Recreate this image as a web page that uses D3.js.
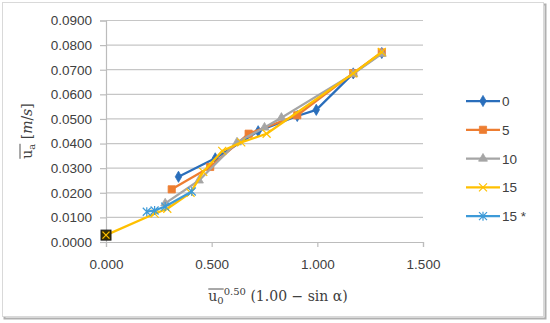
<!DOCTYPE html>
<html>
<head>
<meta charset="utf-8">
<script src="https://cdn.jsdelivr.net/npm/d3@7"></script>
<style>
  body { margin: 0; background: #fff; }
  svg text { font-family: "Liberation Sans", Arial, sans-serif; fill: #404040; }
  .math { font-family: "DejaVu Serif", "Liberation Serif", serif; }
</style>
</head>
<body>
<div id="chart"></div>
<script>
// series values: [x, y]
const seriesNames = ["0", "5", "10", "15", "15 *"];
const s0 = [[0.343, 0.0265], [0.517, 0.0340], [0.720, 0.0450], [0.905, 0.0512], [0.995, 0.0537], [1.170, 0.0685], [1.305, 0.0768]];
const s5 = [[0.311, 0.0214], [0.493, 0.0305], [0.675, 0.0440], [0.905, 0.0515], [1.170, 0.0686], [1.305, 0.0770]];
const s10 = [[0.280, 0.0157], [0.440, 0.0250], [0.620, 0.0405], [0.750, 0.0465], [0.830, 0.0505], [1.170, 0.0683], [1.305, 0.0765]];
const s15 = [[0.000, 0.0028], [0.230, 0.0115], [0.290, 0.0135], [0.400, 0.0200], [0.460, 0.0285], [0.550, 0.0370], [0.640, 0.0405], [0.760, 0.0440], [1.170, 0.0685], [1.305, 0.0772]];
const s15b = [[0.193, 0.0123], [0.230, 0.0128], [0.280, 0.0144], [0.406, 0.0205]];
const seriesData = [s0, s5, s10, s15, s15b];
const colors = ["#2a6ebb", "#ed7d31", "#a5a5a5", "#ffc000", "#3d9ad8"];
const markers = ["diamond", "square", "triangle", "x", "star"];
const xTicks = [0, 0.5, 1.0, 1.5];
const yTicks = [0, 0.01, 0.02, 0.03, 0.04, 0.05, 0.06, 0.07, 0.08, 0.09];

const W = 550, H = 323;
const margin = {top: 20.5, right: 127, bottom: 81, left: 106};
const width = W - margin.left - margin.right;
const height = H - margin.top - margin.bottom;

const svg = d3.select("#chart").append("svg")
  .attr("width", W)
  .attr("height", H);

// outer chart frame with a soft shadow on right/bottom
svg.append("rect")
  .attr("x", 3.5).attr("y", 3.5)
  .attr("width", 541).attr("height", 314)
  .attr("fill", "none").attr("stroke", "#b0b0b0").attr("stroke-width", 2)
  .attr("transform", "translate(1,1)");
svg.append("rect")
  .attr("x", 2.5).attr("y", 2.5)
  .attr("width", 541).attr("height", 314)
  .attr("fill", "#fff").attr("stroke", "#d9d9d9").attr("stroke-width", 1);

const x = d3.scaleLinear().domain([0, 1.5]).range([0, width]);
const y = d3.scaleLinear().domain([0, 0.09]).range([height, 0]);

const g = svg.append("g")
  .attr("transform", `translate(${margin.left},${margin.top})`);

// gridlines
g.append("g")
  .selectAll("line")
  .data(yTicks.slice(1))
  .join("line")
  .attr("x1", 0).attr("x2", width)
  .attr("y1", d => y(d)).attr("y2", d => y(d))
  .attr("stroke", "#c6c6c6").attr("stroke-width", 1.2);

// axes
const yAxis = d3.axisLeft(y).tickValues(yTicks).tickFormat(d3.format(".4f")).tickSize(6).tickPadding(8);
const xAxis = d3.axisBottom(x).tickValues(xTicks).tickFormat(d3.format(".3f")).tickSize(5).tickPadding(12);

const yAxisG = g.append("g").call(yAxis);
const xAxisG = g.append("g").attr("transform", `translate(0,${height})`).call(xAxis);

[yAxisG, xAxisG].forEach(a => {
  a.select(".domain").attr("stroke", "#bcbcbc").attr("stroke-width", 1.2);
  a.selectAll(".tick line").attr("stroke", "#bcbcbc").attr("stroke-width", 1.2);
  a.selectAll(".tick text").attr("fill", "#404040")
    .style("font-family", "'Liberation Sans', Arial, sans-serif")
    .style("font-size", "13.5px");
});

// marker shapes
function markerPath(type) {
  if (type === "diamond") return d3.symbol(d3.symbolDiamond, 36)();
  if (type === "square") return d3.symbol(d3.symbolSquare, 52)();
  if (type === "triangle") return d3.symbol(d3.symbolTriangle, 34)();
  if (type === "x") return "M-4,-4L4,4M-4,4L4,-4";
  return "M-4,-4L4,4M-4,4L4,-4M0,-4.5L0,4.5";
}
function drawMarker(sel, type, color) {
  const filled = type === "diamond" || type === "square" || type === "triangle";
  sel.append("path")
    .attr("d", markerPath(type))
    .attr("fill", filled ? color : "none")
    .attr("stroke", color)
    .attr("stroke-width", filled ? 0.8 : 1.2);
}

const line = d3.line().x(d => x(d[0])).y(d => y(d[1]));

seriesData.forEach((data, i) => {
  const sg = g.append("g");
  sg.append("path")
    .datum(data)
    .attr("d", line)
    .attr("fill", "none")
    .attr("stroke", colors[i])
    .attr("stroke-width", 2.25)
    .attr("stroke-linejoin", "round");
  sg.selectAll(".pt")
    .data(data)
    .join("g")
    .attr("class", "pt")
    .attr("transform", d => `translate(${x(d[0])},${y(d[1])})`)
    .each(function () { drawMarker(d3.select(this), markers[i], colors[i]); });
});

// origin point: dark box with a yellow cross
const origin = g.append("g").attr("transform", `translate(${x(s15[0][0])},${y(s15[0][1])})`);
origin.append("rect").attr("x", -5).attr("y", -5).attr("width", 10).attr("height", 10)
  .attr("fill", "#3a3000").attr("stroke", "#1a1a1a");
origin.append("path").attr("d", "M-3.5,-3.5L3.5,3.5M-3.5,3.5L3.5,-3.5")
  .attr("stroke", "#ffc000").attr("stroke-width", 1.3);

// legend
const legend = svg.append("g").attr("transform", "translate(466,101)");
seriesNames.forEach((name, i) => {
  const row = legend.append("g").attr("transform", `translate(0,${i * 28.8})`);
  row.append("line").attr("x1", 0).attr("x2", 34).attr("y1", 0).attr("y2", 0)
    .attr("stroke", colors[i]).attr("stroke-width", 2.25);
  const m = row.append("g").attr("transform", "translate(17,0)");
  drawMarker(m, markers[i], colors[i]);
  row.append("text").attr("x", 36).attr("y", 5)
    .style("font-size", "13.5px").text(name);
});

// math-style title: overlined u with subscript, then the rest
function mathTitle(parent, sub, sup, rest, italicParts) {
  const t = parent.append("text").attr("class", "math").style("font-size", "14px");
  t.append("tspan").text("u");
  t.append("tspan").style("font-size", "10px").attr("dy", 3).text(sub);
  let dyBack = -3;
  if (sup) {
    t.append("tspan").style("font-size", "10px").attr("dy", -9).text(sup);
    dyBack = 6;
  }
  let first = true;
  rest.forEach((part, k) => {
    const ts = t.append("tspan").text(part);
    if (first) { ts.attr("dy", dyBack); first = false; }
    if (italicParts.includes(k)) ts.style("font-style", "italic");
  });
  // centre the text and draw the bar over "u" + subscript
  const w = t.node().getComputedTextLength();
  t.attr("x", -w / 2);
  const x0 = t.node().getStartPositionOfChar(0).x;
  const x1 = t.node().getEndPositionOfChar(1).x;
  parent.append("line")
    .attr("x1", x0).attr("x2", x1)
    .attr("y1", -12).attr("y2", -12)
    .attr("stroke", "#404040").attr("stroke-width", 0.9);
}

const yTitleG = svg.append("g").attr("transform", "translate(32,131) rotate(-90)");
mathTitle(yTitleG, "a", null, [" [", "m", "/", "s", "]"], [1, 3]);

const xTitleG = svg.append("g").attr("transform", "translate(278,301)");
mathTitle(xTitleG, "0", "0.50", [" (1.00 − sin α)"], []);
</script>
</body>
</html>
